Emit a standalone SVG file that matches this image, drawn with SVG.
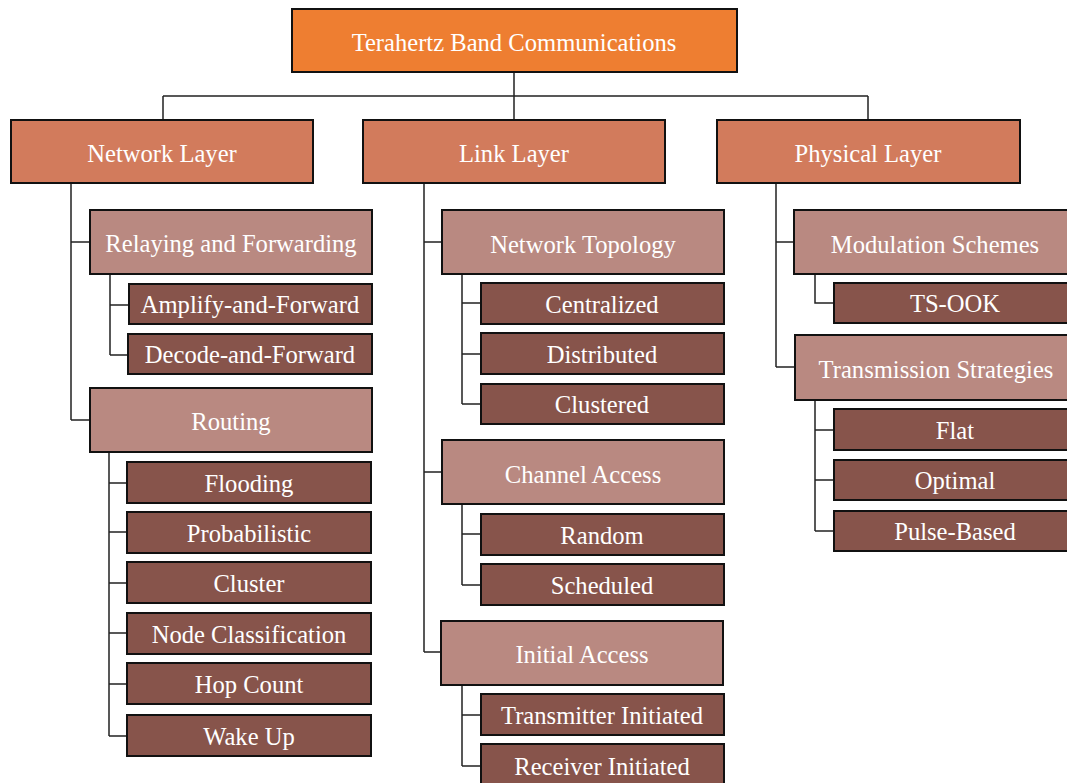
<svg xmlns="http://www.w3.org/2000/svg" width="1067" height="783" viewBox="0 0 1067 783">
<style>
.b{stroke:#111;stroke-width:2}
.r{fill:#EE7E31}
.l1{fill:#D27B5C}
.l2{fill:#B98981}
.l3{fill:#87544B}
text{font-family:"Liberation Serif","Times New Roman",serif;font-size:24.6px;fill:#FFFFFF;text-anchor:middle}
.c{fill:none;stroke:#222;stroke-width:1.5}
</style>
<rect width="1067" height="783" fill="#FFFFFF"/>
<g id="connectors" class="c">
<path d="M514 72V96M163 96H868M163 96V120M514 96V120M868 96V120"/>
<path d="M71 183V420M71 242H90M71 420H90"/>
<path d="M110 274V355M110 305H129M110 355H128"/>
<path d="M109 452V736M109 483H127M109 532H127M109 583H127M109 633H127M109 684H127M109 736H127"/>
<path d="M424 183V652M424 242H442M424 472H442M424 652H441"/>
<path d="M462 274V404M462 303H481M462 354H481M462 404H481"/>
<path d="M462 504V585M462 534H481M462 585H481"/>
<path d="M462 685V766M462 715H481M462 766H481"/>
<path d="M776 183V367M776 242H794M776 367H795"/>
<path d="M815 274V303H834"/>
<path d="M815 400V531M815 430H834M815 480H834M815 531H834"/>
</g>
<g id="root"><rect class="b r" x="292" y="9" width="445" height="63"/><text x="514" y="50.5">Terahertz Band Communications</text></g>
<g id="network-layer"><rect class="b l1" x="11" y="120" width="302" height="63"/><text x="162" y="161.5">Network Layer</text></g>
<g id="link-layer"><rect class="b l1" x="363" y="120" width="302" height="63"/><text x="514" y="161.5">Link Layer</text></g>
<g id="physical-layer"><rect class="b l1" x="717" y="120" width="303" height="63"/><text x="868" y="161.5">Physical Layer</text></g>
<g id="relaying"><rect class="b l2" x="90" y="210" width="282" height="64"/><text x="231" y="252">Relaying and Forwarding</text></g>
<g id="amplify"><rect class="b l3" x="129" y="284" width="243" height="40"/><text x="250" y="312.5">Amplify-and-Forward</text></g>
<g id="decode"><rect class="b l3" x="128" y="334" width="244" height="40"/><text x="250" y="362.5">Decode-and-Forward</text></g>
<g id="routing"><rect class="b l2" x="90" y="388" width="282" height="64"/><text x="231" y="430">Routing</text></g>
<g id="flooding"><rect class="b l3" x="127" y="462" width="244" height="41"/><text x="249" y="492">Flooding</text></g>
<g id="probabilistic"><rect class="b l3" x="127" y="512" width="244" height="41"/><text x="249" y="542">Probabilistic</text></g>
<g id="cluster"><rect class="b l3" x="127" y="562" width="244" height="41"/><text x="249" y="592">Cluster</text></g>
<g id="node-classification"><rect class="b l3" x="127" y="613" width="244" height="41"/><text x="249" y="643">Node Classification</text></g>
<g id="hop-count"><rect class="b l3" x="127" y="663" width="244" height="41"/><text x="249" y="693">Hop Count</text></g>
<g id="wake-up"><rect class="b l3" x="127" y="715" width="244" height="41"/><text x="249" y="745">Wake Up</text></g>
<g id="network-topology"><rect class="b l2" x="442" y="210" width="282" height="64"/><text x="583" y="252.5">Network Topology</text></g>
<g id="centralized"><rect class="b l3" x="481" y="283" width="243" height="41"/><text x="602" y="313">Centralized</text></g>
<g id="distributed"><rect class="b l3" x="481" y="333" width="243" height="41"/><text x="602" y="363">Distributed</text></g>
<g id="clustered"><rect class="b l3" x="481" y="384" width="243" height="40"/><text x="602" y="413">Clustered</text></g>
<g id="channel-access"><rect class="b l2" x="442" y="440" width="282" height="64"/><text x="583" y="482.5">Channel Access</text></g>
<g id="random"><rect class="b l3" x="481" y="514" width="243" height="41"/><text x="602" y="544">Random</text></g>
<g id="scheduled"><rect class="b l3" x="481" y="564" width="243" height="41"/><text x="602" y="594">Scheduled</text></g>
<g id="initial-access"><rect class="b l2" x="441" y="621" width="282" height="64"/><text x="582" y="662.5">Initial Access</text></g>
<g id="transmitter-initiated"><rect class="b l3" x="481" y="694" width="243" height="41"/><text x="602" y="724">Transmitter Initiated</text></g>
<g id="receiver-initiated"><rect class="b l3" x="481" y="744" width="243" height="41"/><text x="602" y="775">Receiver Initiated</text></g>
<g id="modulation-schemes"><rect class="b l2" x="794" y="210" width="282" height="64"/><text x="935" y="252.5">Modulation Schemes</text></g>
<g id="ts-ook"><rect class="b l3" x="834" y="283" width="243" height="40"/><text x="955" y="312">TS-OOK</text></g>
<g id="transmission-strategies"><rect class="b l2" x="795" y="335" width="282" height="65"/><text x="936" y="377.5">Transmission Strategies</text></g>
<g id="flat"><rect class="b l3" x="834" y="409" width="243" height="41"/><text x="955" y="439">Flat</text></g>
<g id="optimal"><rect class="b l3" x="834" y="460" width="243" height="40"/><text x="955" y="489">Optimal</text></g>
<g id="pulse-based"><rect class="b l3" x="834" y="511" width="243" height="40"/><text x="955" y="540">Pulse-Based</text></g>
</svg>
